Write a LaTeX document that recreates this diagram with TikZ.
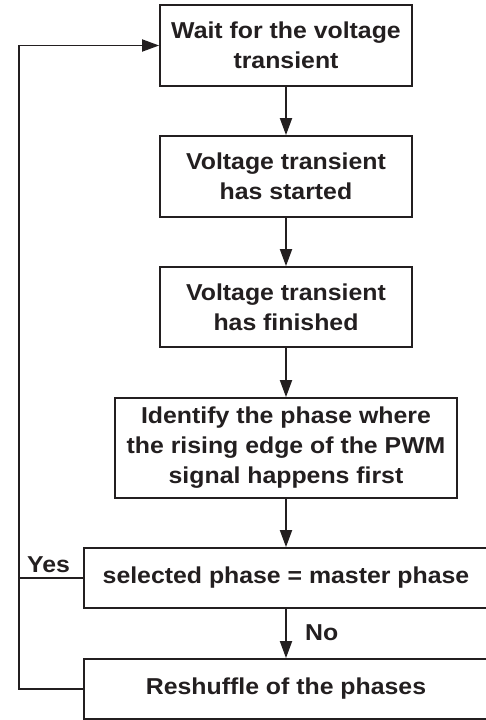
\documentclass[tikz,border=0pt]{standalone}
\usepackage{fontspec}
\setmainfont{Liberation Sans}[BoldFeatures={FakeStretch=1.08}]
\usetikzlibrary{arrows.meta}
\definecolor{ink}{HTML}{231F20}
\begin{document}
\begin{tikzpicture}[x=1pt,y=-1pt,
  every node/.style={font=\fontsize{23}{30}\selectfont\bfseries, text=ink},
  stepbox/.style={draw=ink, line width=1.8pt, rectangle, align=center, inner sep=0pt},
  conn/.style={draw=ink, line width=1.8pt},
  arr/.style={conn, -{Triangle[length=17pt,width=12pt]}}]
\path[use as bounding box, clip] (0,0) rectangle (486,720);
\fill[white] (0,0) rectangle (486,720);
\node[stepbox, minimum width=252pt, minimum height=81pt] (b1) at (286,45.5) {Wait for the voltage\\transient};
\node[stepbox, minimum width=252pt, minimum height=81pt] (b2) at (286,176.5) {Voltage transient\\has started};
\node[stepbox, minimum width=252pt, minimum height=80pt] (b3) at (286,307) {Voltage transient\\has finished};
\node[stepbox, minimum width=342pt, minimum height=100pt] (b4) at (286,448) {Identify the phase where\\the rising edge of the PWM\\signal happens first};
\node[stepbox, minimum width=404pt, minimum height=60pt] (b5) at (286,578) {selected phase = master phase};
\node[stepbox, minimum width=404pt, minimum height=60pt] (b6) at (286,689) {Reshuffle of the phases};
\coordinate (l1) at (19,578);
\coordinate (l2) at (19,689);
\coordinate (l3) at (19,45.5);
\draw[arr] (b1) -- (b2);
\draw[arr] (b2) -- (b3);
\draw[arr] (b3) -- (b4);
\draw[arr] (b4) -- (b5);
\draw[arr] (b5) -- (b6);
\draw[conn] (b5.west) -- (l1);
\draw[arr] (b6.west) -- (l2) -- (l3) -- (b1.west);
\node[anchor=base west, inner sep=0pt] (yes) at (27,572) {Yes};
\node[anchor=west, inner sep=0pt] (no) at (305,633) {No};
\end{tikzpicture}
\end{document}
